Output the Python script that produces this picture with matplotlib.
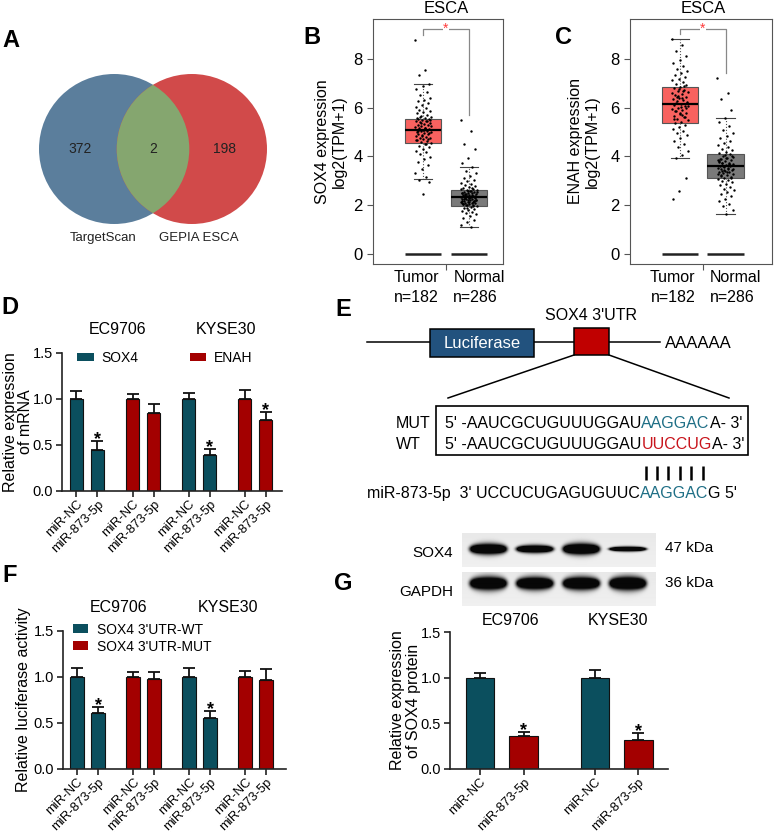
import numpy as np
import matplotlib
matplotlib.use('Agg')
import matplotlib.pyplot as plt
from matplotlib.patches import Circle, Rectangle, Patch

plt.rcParams['font.family'] = ['Liberation Sans', 'DejaVu Sans']

W, H = 777, 834
TEAL = '#0b4f5e'
RED = '#a30000'
SEQ_TEAL = '#1f6f86'
SEQ_RED = '#c8141c'

# ---- data ----
venn_names = ['TargetScan', 'GEPIA ESCA']
venn_counts = [372, 2, 198]

gepia_groups = ['Tumor', 'Normal']
gepia_n = [182, 286]
# whislo, q1, med, q3, whishi
sox4_stats = [[3.07, 4.55, 5.07, 5.53, 6.97], [1.10, 1.98, 2.32, 2.62, 3.55]]
enah_stats = [[3.93, 5.35, 6.14, 6.84, 8.80], [1.64, 3.10, 3.61, 4.10, 5.56]]
sox4_tumor = [8.78, 7.55, 7.32, 6.97, 6.9, 6.75, 6.62, 6.5, 6.41, 6.33, 6.25, 6.18, 6.1, 6.04,
              5.97, 5.9, 5.86, 5.8, 5.76, 5.71, 5.66, 5.62, 5.58, 5.55, 5.52, 5.49, 5.46, 5.43,
              5.4, 5.37, 5.33, 5.3, 5.27, 5.24, 5.21, 5.18, 5.15, 5.12, 5.09, 5.07, 5.05, 5.02,
              4.99, 4.96, 4.93, 4.9, 4.87, 4.84, 4.81, 4.77, 4.74, 4.7, 4.66, 4.62, 4.58, 4.54,
              4.49, 4.44, 4.38, 4.31, 4.24, 4.16, 4.08, 3.98, 3.88, 3.76, 3.63, 3.48, 3.32,
              3.15, 3.02, 2.95, 2.47, 5.56, 5.44, 5.35, 5.26, 5.16, 5.04, 4.94, 4.82, 4.68,
              4.52, 5.6, 5.5, 5.1, 4.98, 4.72]
sox4_normal = [5.48, 5.05, 4.5, 4.32, 3.95, 3.72, 3.55, 3.42, 3.3, 3.2, 3.12, 3.05, 2.98, 2.92,
               2.87, 2.82, 2.78, 2.74, 2.7, 2.67, 2.64, 2.61, 2.59, 2.56, 2.54, 2.52, 2.5, 2.48,
               2.46, 2.44, 2.42, 2.4, 2.38, 2.36, 2.35, 2.33, 2.32, 2.3, 2.29, 2.27, 2.26, 2.24,
               2.22, 2.21, 2.19, 2.17, 2.15, 2.13, 2.11, 2.09, 2.07, 2.05, 2.03, 2.01, 1.99, 1.96,
               1.93, 1.9, 1.86, 1.82, 1.78, 1.73, 1.68, 1.62, 1.56, 1.48, 1.4, 1.3, 1.2, 1.1,
               2.45, 2.37, 2.28, 2.18, 2.12, 2.02, 2.55, 2.34, 2.25, 2.16, 2.6, 2.5, 2.41,
               2.31, 2.23, 2.14, 2.06, 1.98, 1.88, 2.68, 2.57, 2.43, 2.33, 2.2, 2.08, 2.72]
enah_tumor = [8.8, 8.55, 8.3, 8.1, 7.95, 7.82, 7.7, 7.6, 7.5, 7.42, 7.34, 7.26, 7.19, 7.12, 7.05,
              6.98, 6.92, 6.86, 6.8, 6.74, 6.68, 6.62, 6.56, 6.5, 6.45, 6.4, 6.35, 6.3, 6.25, 6.2,
              6.15, 6.1, 6.05, 6.0, 5.95, 5.9, 5.84, 5.78, 5.72, 5.66, 5.6, 5.54, 5.48, 5.42, 5.36,
              5.3, 5.22, 5.14, 5.05, 4.96, 4.86, 4.76, 4.64, 4.52, 4.38, 4.22, 4.05, 3.93, 3.12,
              2.58, 2.25, 6.66, 6.42, 6.22, 6.02, 5.88, 5.62, 6.78, 6.58, 6.38, 6.18, 5.98,
              5.76, 5.52, 6.9, 6.48, 6.08, 5.7]
enah_normal = [7.2, 6.6, 6.35, 5.9, 5.57, 5.4, 5.25, 5.1, 4.97, 4.85, 4.74, 4.64, 4.55, 4.47, 4.39,
               4.32, 4.25, 4.19, 4.13, 4.08, 4.03, 3.98, 3.94, 3.9, 3.86, 3.82, 3.78, 3.74, 3.71,
               3.68, 3.65, 3.62, 3.59, 3.56, 3.53, 3.5, 3.47, 3.44, 3.41, 3.38, 3.35, 3.32, 3.28,
               3.24, 3.2, 3.16, 3.12, 3.08, 3.03, 2.98, 2.93, 2.87, 2.81, 2.75, 2.68, 2.61, 2.53,
               2.45, 2.36, 2.27, 2.17, 2.06, 1.95, 1.82, 1.64, 3.88, 3.66, 3.46, 3.26, 3.52, 3.72,
               4.0, 3.92, 3.8, 3.7, 3.6, 3.48, 3.36, 3.22, 3.1, 4.06, 3.84, 3.63, 3.42]

treat = ['miR-NC', 'miR-873-5p']
cells = ['EC9706', 'KYSE30']

d_genes = ['SOX4', 'ENAH']
d_vals = [1.0, 0.44, 1.0, 0.85, 1.0, 0.39, 1.0, 0.77]
d_err = [0.085, 0.106, 0.049, 0.094, 0.06, 0.065, 0.095, 0.083]
d_sig = [0, 1, 0, 0, 0, 1, 0, 1]

f_groups = ["SOX4 3'UTR-WT", "SOX4 3'UTR-MUT"]
f_vals = [1.0, 0.613, 1.0, 0.977, 1.0, 0.552, 1.0, 0.963]
f_err = [0.093, 0.061, 0.049, 0.072, 0.10, 0.083, 0.064, 0.122]
f_sig = [0, 1, 0, 0, 0, 1, 0, 0]

g_vals = [1.0, 0.361, 1.0, 0.318]
g_err = [0.051, 0.04, 0.084, 0.072]
g_sig = [0, 1, 0, 1]

blot_rows = ['SOX4', 'GAPDH']
blot_kda = ['47 kDa', '36 kDa']
sox4_band = [1.0, 0.72, 1.05, 0.45]
gapdh_band = [1.0, 0.95, 0.97, 1.02]


def box(l, t, r, b):
    return [l / W, 1 - b / H, (r - l) / W, (b - t) / H]


fig = plt.figure(figsize=(W / 100, H / 100), dpi=100)

# ---- A: venn ----
ax = fig.add_axes(box(39, 74, 267, 224))
ax.set_xlim(-1.517, 1.517)
ax.set_ylim(-1, 1)
ax.axis('off')
left = Circle((-0.517, 0), 1, fc='#5b7e9c', ec='none')
right = Circle((0.517, 0), 1, fc='#d14a4a', ec='none')
ax.add_patch(left)
ax.add_patch(right)
lens = Circle((0.517, 0), 1, fc='#85a66f', ec='none')
ax.add_patch(lens)
lens.set_clip_path(left)
for x, c in zip([-0.97, 0, 0.95], venn_counts):
    ax.text(x, 0, str(c), ha='center', va='center', fontsize=10, color='#222')
for x, nm in zip([-0.67, 0.61], venn_names):
    ax.text(x, -1.19, nm, ha='center', va='center', fontsize=9.5, color='#222', clip_on=False)


# ---- B, C: GEPIA boxplots ----
def gepia(rect, xlim, stats, pts, gene, right_top, lab_x):
    ax = fig.add_axes(rect)
    st = [dict(whislo=s[0], q1=s[1], med=s[2], q3=s[3], whishi=s[4], fliers=[]) for s in stats]
    bp = ax.bxp(st, positions=[0, 1], widths=0.8, patch_artist=True, showfliers=False,
                capwidths=0.4,
                boxprops=dict(edgecolor='#555', linewidth=0.8),
                medianprops=dict(color='black', linewidth=1.6),
                whiskerprops=dict(color='#555', linestyle=':', linewidth=0.8),
                capprops=dict(color='#444', linewidth=0.8))
    for b, fc in zip(bp['boxes'], ['#f8625f', '#7a7a7a']):
        b.set_facecolor(fc)
    for i, vals in enumerate(pts):
        n = len(vals)
        jit = ((np.arange(n) * 0.618034) % 1 - 0.5) * 0.36
        ax.scatter(i + jit, vals, s=3, c='black', lw=0, zorder=4)
    ax.hlines([0, 0], [-0.4, 0.6], [0.4, 1.4], color='#222', lw=1.8)
    ax.plot([0, 0, 1, 1], [pts[0][0] + 0.2, 9.22, 9.22, right_top], color='#888', lw=0.9)
    ax.text(0.5, 9.22, '*', color='#ff3b3b', ha='center', va='center', fontsize=10,
            bbox=dict(fc='white', ec='none', pad=0.3))
    ax.set_xlim(xlim)
    ax.set_ylim(-0.41, 9.63)
    ax.set_yticks([0, 2, 4, 6, 8])
    ax.set_xticks([0.5])
    ax.set_xticklabels([''])
    ax.tick_params(labelsize=12, length=4, width=0.8, color='#555')
    for s in ax.spines.values():
        s.set_color('#555')
        s.set_linewidth(0.8)
    ax.set_ylabel(gene + ' expression\nlog2(TPM+1)', fontsize=11.5)
    ax.yaxis.set_label_coords(lab_x, 0.5)
    ax.text(0.5, 10.08, 'ESCA', ha='center', va='center', fontsize=12, clip_on=False)
    for x, ha, g, n in zip([0.34, 0.66], ['right', 'left'], gepia_groups, gepia_n):
        ax.text(x, -0.98, g, ha=ha, va='center', fontsize=11.5, clip_on=False)
        ax.text(x, -1.78, 'n=%d' % n, ha=ha, va='center', fontsize=11.5, clip_on=False)
    return ax


gepia(box(373, 19, 503, 264), (-1.10, 1.75), sox4_stats, [sox4_tumor, sox4_normal], 'SOX4',
      5.7, -0.2)
gepia(box(630, 19, 772, 264), (-1.10, 2.02), enah_stats, [enah_tumor, enah_normal], 'ENAH',
      7.43, -0.21)


# ---- bar panels D, F, G ----
def bars(rect, pos, xlim, vals, errs, colors, sig, ylab, lab_x, title_x, title_y):
    ax = fig.add_axes(rect)
    ax.bar(pos, vals, 0.65, color=colors, edgecolor='#111', linewidth=0.8, zorder=2)
    ax.errorbar(pos, vals, yerr=[np.zeros(len(vals)), errs], fmt='none', ecolor='#111',
                elinewidth=1.3, capsize=4, capthick=1.3, zorder=3)
    for p, v, e, s in zip(pos, vals, errs, sig):
        if s:
            ax.text(p, v + e - 0.035, '*', ha='center', va='baseline', fontsize=13,
                    fontweight='bold')
    ax.set_xlim(xlim)
    ax.set_ylim(0, 1.5)
    ax.set_yticks([0, 0.5, 1.0, 1.5])
    ax.set_yticklabels(['0.0', '0.5', '1.0', '1.5'])
    ax.set_xticks(pos)
    ax.set_xticklabels(treat * (len(pos) // 2), rotation=45, ha='right', rotation_mode='anchor',
                       fontsize=9.4)
    ax.tick_params(axis='y', labelsize=10.5, length=4, width=1.2, color='#222', pad=2.5)
    ax.tick_params(axis='x', length=4, width=1.2, color='#222', pad=1.2)
    ax.spines['top'].set_visible(False)
    ax.spines['right'].set_visible(False)
    for s in ['left', 'bottom']:
        ax.spines[s].set_linewidth(1.2)
        ax.spines[s].set_color('#222')
    ax.set_ylabel(ylab, fontsize=11.5, linespacing=1.05)
    ax.yaxis.set_label_coords(lab_x, 0.5)
    for x, c in zip(title_x, cells):
        ax.text(x, title_y, c, ha='center', va='center', fontsize=11.5, clip_on=False)
    return ax


pos8 = (np.arange(4)[:, None] * 2.67 + np.array([0, 1])).ravel()
ax = bars(box(62, 352.7, 282, 491), pos8, (-0.69, 9.79), d_vals, d_err,
          [TEAL, TEAL, RED, RED] * 2, d_sig, 'Relative expression\nof mRNA', -0.13,
          [1.98, 7.12], 1.757)
ax.legend(handles=[Patch(fc=TEAL, label=d_genes[0]), Patch(fc=RED, label=d_genes[1])],
          ncol=2, loc='center left', bbox_to_anchor=(0.068, 0.964), frameon=False,
          fontsize=10, handlelength=1.2, handleheight=0.55, handletextpad=0.55,
          columnspacing=3.7, borderpad=0, borderaxespad=0)

ax = bars(box(63, 631, 286, 769), pos8, (-0.67, 9.95), f_vals, f_err,
          [TEAL, TEAL, RED, RED] * 2, f_sig, 'Relative luciferase activity', -0.142,
          [1.96, 7.17], 1.76)
ax.legend(handles=[Patch(fc=TEAL, label=f_groups[0]), Patch(fc=RED, label=f_groups[1])],
          loc='center left', bbox_to_anchor=(0.045, 0.949), frameon=False,
          fontsize=10, handlelength=1.1, handleheight=0.55, handletextpad=0.6,
          labelspacing=0.22, borderpad=0, borderaxespad=0)

pos4 = (np.arange(2)[:, None] * 2.64 + np.array([0, 1])).ravel()
bars(box(450, 632, 668, 769), pos4, (-0.69, 4.32), g_vals, g_err, [TEAL, RED] * 2, g_sig,
     'Relative expression\nof SOX4 protein', -0.135, [0.71, 3.17], 1.63)


# ---- western blot ----
def blot(rect, amps, yc, wy):
    ax = fig.add_axes(rect)
    xs = np.linspace(-0.557, 3.597, 194)
    ys = np.arange(34) + 0.5
    X, Y = np.meshgrid(xs, ys)
    img = np.full(X.shape, 0.91) + 0.03 * (Y / 34)
    dark = np.zeros(X.shape)
    for i, a in enumerate(amps):
        dx = (X - i) / 0.4
        thick = wy * a * np.clip(1 - 0.35 * dx ** 2, 0.05, None)
        dark += np.exp(-dx ** 8) * np.exp(-((Y - yc) / thick) ** 2)
    img = img * (1 - np.clip(dark * 1.8, 0, 0.97))
    ax.imshow(img, cmap='gray', vmin=0, vmax=1, aspect='auto', interpolation='bilinear')
    ax.axis('off')


blot(box(462, 533, 656, 567), sox4_band, 16, 5.2)
blot(box(462, 572, 656, 606), gapdh_band, 12, 6.3)

# ---- overlay: letters, E schematic, blot labels ----
ov = fig.add_axes([0, 0, 1, 1])
ov.set_xlim(0, W)
ov.set_ylim(H, 0)
ov.axis('off')

for (x, y), s in zip([(11, 40), (312, 37), (564, 37), (10, 307), (343, 310), (10, 575), (343, 583)],
                     'ABCDEFG'):
    ov.text(x, y, s, fontsize=17, fontweight='bold', ha='center', va='center')

ov.plot([367, 660], [342, 342], color='black', lw=1.1)
ov.add_patch(Rectangle((430, 329), 104, 28, fc='#22527e', ec='black', lw=1.1, zorder=3))
ov.text(482, 343, 'Luciferase', color='white', fontsize=12, ha='center', va='center', zorder=4)
ov.add_patch(Rectangle((574, 328), 35, 27, fc='#c00000', ec='black', lw=1.1, zorder=3))
ov.text(591, 315, "SOX4 3'UTR", fontsize=11.5, ha='center', va='center')
ov.text(665, 343, 'AAAAAA', fontsize=12, ha='left', va='center')
ov.plot([574, 448], [355, 398], color='black', lw=1.1)
ov.plot([609, 729], [355, 398], color='black', lw=1.1)
ov.add_patch(Rectangle((436, 406), 312, 49, fc='none', ec='black', lw=1.2))
ov.text(396, 423, 'MUT', fontsize=11.5, ha='left', va='center')
ov.text(396, 444, 'WT', fontsize=11.5, ha='left', va='center')


def seq(x, y, parts):
    t = ov.text(x, y, parts[0][0], color=parts[0][1], fontsize=11.5, ha='left', va='center')
    out = [t]
    for s, c in parts[1:]:
        t = ov.annotate(s, xy=(1, 0), xycoords=t, color=c, fontsize=11.5, ha='left',
                        va='bottom')
        out.append(t)
    return out


seq(445, 423, [("5' -AAUCGCUGUUUGGAU", 'black'), ('AAGGAC', SEQ_TEAL), ("A- 3'", 'black')])
seq(445, 444, [("5' -AAUCGCUGUUUGGAU", 'black'), ('UUCCUG', SEQ_RED), ("A- 3'", 'black')])
mir = seq(367, 493, [("miR-873-5p  3' UCCUCUGAGUGUUC", 'black'), ('AAGGAC', SEQ_TEAL),
                     ("G 5'", 'black')])

# base-pairing ticks over the seed letters
fig.canvas.draw()
bb = mir[1].get_window_extent().transformed(ov.transData.inverted())
x0, x1 = min(bb.x0, bb.x1), max(bb.x0, bb.x1)
step = (x1 - x0) / 6
ov.vlines(x0 + step * (np.arange(6) + 0.5), 466, 480, color='black', lw=1.8)

ov.text(453, 553, blot_rows[0], fontsize=11, ha='right', va='center')
ov.text(453, 592, blot_rows[1], fontsize=11, ha='right', va='center')
ov.text(665, 548, blot_kda[0], fontsize=11, ha='left', va='center')
ov.text(665, 583, blot_kda[1], fontsize=11, ha='left', va='center')

fig.savefig('out.png', dpi=100)
